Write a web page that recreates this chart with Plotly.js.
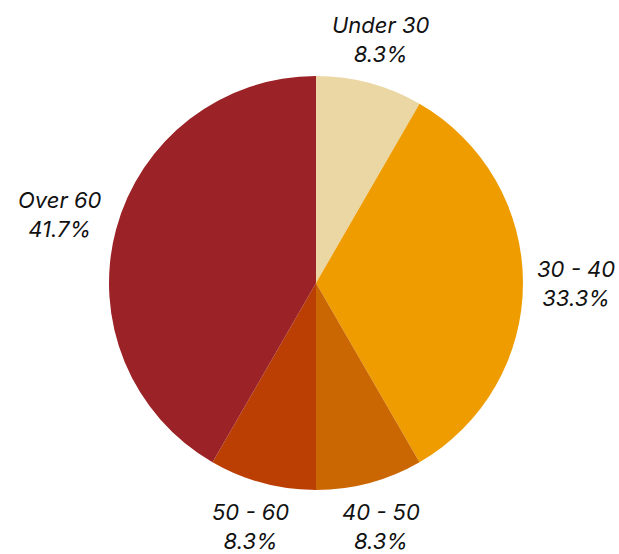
<!DOCTYPE html>
<html>
<head>
<meta charset="utf-8">
<script src="https://cdn.plot.ly/plotly-3.0.1.min.js"></script>
<style>html,body{margin:0;padding:0;background:#fff;}#chart{width:619px;height:554px;}</style>
</head>
<body>
<div id="chart"></div>
<script>
var categories = ["Under 30", "30 - 40", "40 - 50", "50 - 60", "Over 60"];
var counts = [1, 4, 1, 1, 5];
var sliceColors = ["#EAD7A4", "#EE9C00", "#CA6702", "#BB3E03", "#9B2226"];

var W = 619, H = 554;
var M = {l: 20, r: 7, t: 76, b: 64};
var plotW = W - M.l - M.r, plotH = H - M.t - M.b;
var radius = Math.min(plotW, plotH) / 2;
var gap = 13, halfW = 40, halfH = 23;

var total = counts.reduce(function (a, b) { return a + b; }, 0);
var annotations = [];
var cum = 0;
for (var i = 0; i < counts.length; i++) {
  var mid = (cum + counts[i] / 2) / total * 2 * Math.PI; // clockwise from top
  cum += counts[i];
  var s = Math.sin(mid), c = Math.cos(mid);
  var d = radius + gap + Math.abs(s) * halfW + Math.abs(c) * halfH;
  var pct = (counts[i] / total * 100).toFixed(1) + "%";
  annotations.push({
    xref: "paper", yref: "paper",
    x: 0.5 + d * s / plotW,
    y: 0.5 + d * c / plotH,
    xanchor: "center", yanchor: "middle",
    text: categories[i] + "<br>" + pct,
    showarrow: false,
    align: "center",
    font: {family: "Inter, 'DejaVu Sans', sans-serif", size: 22, color: "#111", style: "italic"}
  });
}

var data = [{
  type: "pie",
  labels: categories,
  values: counts,
  sort: false,
  direction: "clockwise",
  rotation: 0,
  marker: {colors: sliceColors, line: {width: 0}},
  textinfo: "none",
  hoverinfo: "label+percent",
  automargin: false,
  showlegend: false
}];

var layout = {
  width: W,
  height: H,
  margin: M,
  paper_bgcolor: "#fff",
  plot_bgcolor: "#fff",
  showlegend: false,
  annotations: annotations
};

Plotly.newPlot("chart", data, layout, {displayModeBar: false, staticPlot: true});
</script>
</body>
</html>
